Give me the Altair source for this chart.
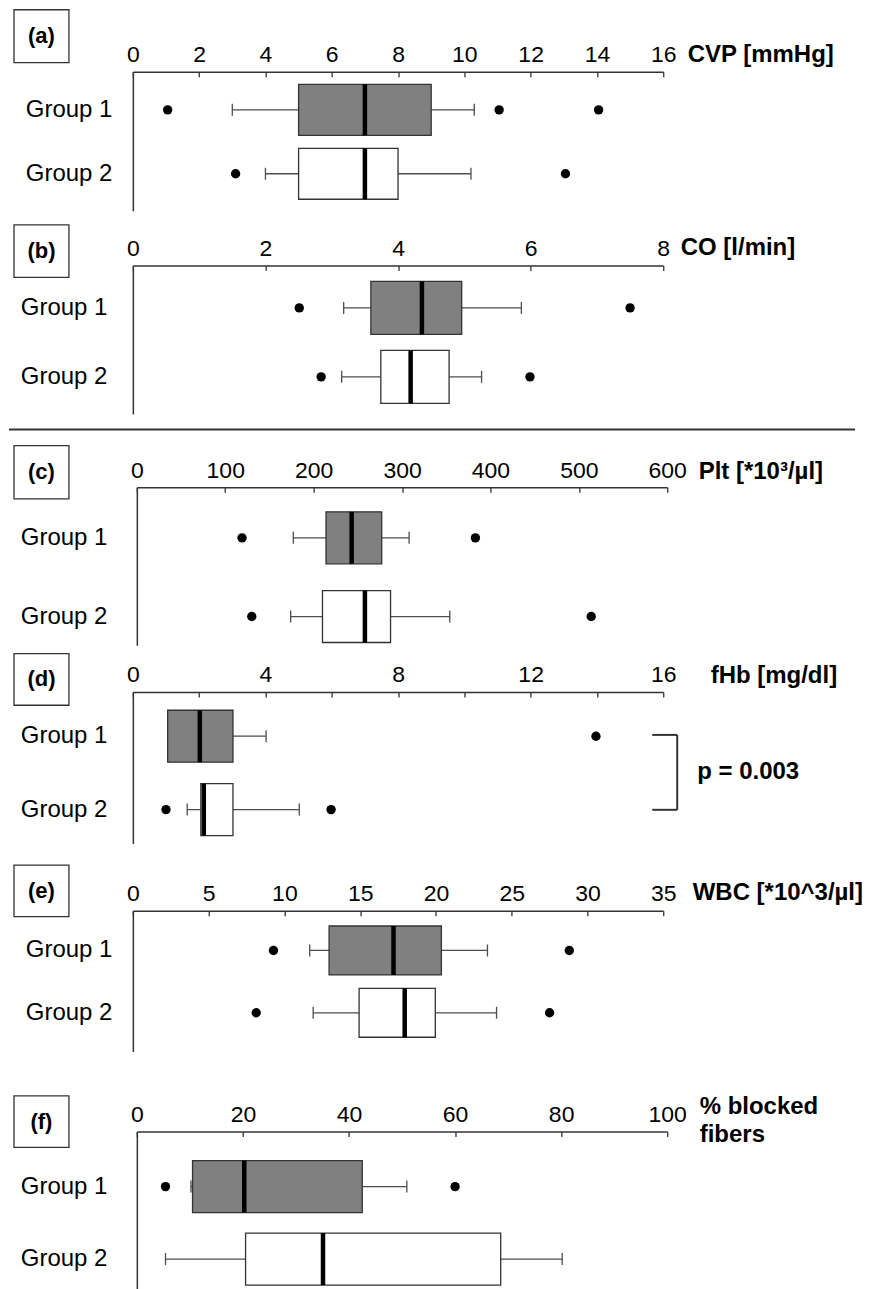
import altair as alt
import pandas as pd

groups = ["Group 1", "Group 2"]

# (a) CVP [mmHg]
cvp_low = [3.0, 4.0]
cvp_q1 = [5.0, 5.0]
cvp_med = [7.0, 7.0]
cvp_q3 = [9.0, 8.0]
cvp_high = [10.3, 10.2]
cvp_out_g1 = [1.05, 11.05, 14.05]
cvp_out_g2 = [3.1, 13.05]

# (b) CO [l/min]
co_low = [3.18, 3.15]
co_q1 = [3.59, 3.74]
co_med = [4.36, 4.19]
co_q3 = [4.96, 4.77]
co_high = [5.86, 5.26]
co_out_g1 = [2.51, 7.5]
co_out_g2 = [2.84, 5.99]

# (c) Plt
plt_low = [177, 174]
plt_q1 = [214, 210]
plt_med = [243, 258]
plt_q3 = [277, 287]
plt_high = [308, 354]
plt_out_g1 = [119, 383]
plt_out_g2 = [130, 514]

# (d) fHb [mg/dl]
fhb_low = [1.05, 1.64]
fhb_q1 = [1.05, 2.05]
fhb_med = [2.02, 2.14]
fhb_q3 = [3.02, 3.02]
fhb_high = [4.02, 5.02]
fhb_out_g1 = [13.97]
fhb_out_g2 = [1.0, 5.98]

# (e) WBC
wbc_low = [11.67, 11.9]
wbc_q1 = [12.95, 14.93]
wbc_med = [17.2, 17.94]
wbc_q3 = [20.36, 19.96]
wbc_high = [23.4, 24.0]
wbc_out_g1 = [9.28, 28.8]
wbc_out_g2 = [8.14, 27.5]

# (f) % blocked fibers
blk_low = [10.2, 5.4]
blk_q1 = [10.5, 20.5]
blk_med = [20.25, 35.1]
blk_q3 = [42.5, 68.6]
blk_high = [50.9, 80.2]
blk_out_g1 = [5.4, 60.0]
blk_out_g2 = []

FONT = "Liberation Sans"
INK = "#333333"
WHISK = "#4d4d4d"
one = pd.DataFrame({"k": [0]})


def band_params(L, c1, c2, bw):
    step = c2 - c1
    pi = 1 - bw / step
    po = (L / step - 2 + pi) / 2
    al = (c1 - bw / 2) / (L - step * (2 - pi))
    return pi, po, al


def panel(letter, title, low, q1, med, q3, high, out1, out2, xmax, label_vals,
          tick_vals, xr0, xr1, height, L, c1, c2, bw, title_x, title_y,
          label_pad, letter_y, extras=(), yoffset=0):
    stats = pd.DataFrame({"group": groups, "low": low, "q1": q1, "med": med,
                          "q3": q3, "high": high})
    caps = pd.DataFrame({"group": groups * 2, "v": list(low) + list(high)})
    outs = pd.DataFrame({"group": ["Group 1"] * len(out1) + ["Group 2"] * len(out2),
                         "v": list(out1) + list(out2)})
    pi, po, al = band_params(L, c1, c2, bw)
    xscale = alt.Scale(domain=[0, xmax], range=[xr0, xr1], nice=False, zero=True)
    yscale = alt.Scale(domain=groups, range=[0, L], paddingInner=pi,
                       paddingOuter=po, align=al, round=False)
    yenc = alt.Y("group:N", scale=yscale, sort=groups,
                 axis=alt.Axis(domain=True, domainColor=INK, domainWidth=1.5,
                               ticks=False, grid=False, labelFont=FONT,
                               labelFontSize=24, labelColor="black",
                               labelPadding=label_pad, title=None, offset=yoffset))
    axisA = alt.Axis(orient="top", values=label_vals, domain=True, domainColor=INK,
                     domainWidth=1.5, ticks=False, grid=False, labelFont=FONT,
                     labelFontSize=23, labelColor="black", labelBaseline="alphabetic",
                     labelPadding=10, labelFlush=False, labelOverlap=False,
                     title=title, titleFont=FONT, titleFontSize=24,
                     titleFontWeight="bold", titleColor="black", titleX=title_x,
                     titleY=title_y, titleAlign="left", titleBaseline="alphabetic",
                     titleAngle=0, titleLineHeight=28)
    axisB = alt.Axis(orient="top", values=tick_vals, offset=-5, domain=False,
                     ticks=True, tickSize=5, tickColor=INK, tickWidth=1.3,
                     labels=False, grid=False, title=None)
    colorenc = alt.Color("group:N", scale=alt.Scale(domain=groups,
                         range=["#808080", "#ffffff"]), legend=None)

    whisk = alt.Chart(stats).mark_rule(color=WHISK, strokeWidth=1.3).encode(
        x=alt.X("low:Q", scale=xscale, axis=axisB), x2="high:Q", y=yenc)
    capl = alt.Chart(caps).mark_tick(color=WHISK, thickness=1.3, size=12, opacity=1).encode(
        x=alt.X("v:Q", scale=xscale, axis=None), y=yenc)
    box = alt.Chart(stats).mark_bar(stroke=INK, strokeWidth=1.3, opacity=1).encode(
        x=alt.X("q1:Q", scale=xscale, axis=axisA), x2="q3:Q", y=yenc, color=colorenc)
    medl = alt.Chart(stats).mark_tick(color="black", thickness=4.5, size=bw, opacity=1).encode(
        x=alt.X("med:Q", scale=xscale, axis=None), y=yenc)
    layers = [whisk, capl, box, medl]
    if len(outs):
        layers.append(alt.Chart(outs).mark_circle(color="black", size=88, opacity=1).encode(
            x=alt.X("v:Q", scale=xscale, axis=None), y=yenc))
    ly0, ly1 = letter_y
    layers.append(alt.Chart(one).mark_rect(fill="white", stroke=INK, strokeWidth=1.3).encode(
        x=alt.value(-119), x2=alt.value(-64), y=alt.value(ly0), y2=alt.value(ly1)))
    layers.append(alt.Chart(one).mark_text(text=f"({letter})", font=FONT, fontSize=22,
                                           fontWeight="bold", align="center",
                                           baseline="middle", color="black").encode(
        x=alt.value(-91.5), y=alt.value((ly0 + ly1) / 2)))
    layers.extend(extras)
    return alt.layer(*layers).resolve_axis(x="independent").properties(
        width=xr1, height=height)


sep = alt.Chart(one).mark_rule(color=INK, strokeWidth=2).encode(
    x=alt.value(-124), x2=alt.value(723), y=alt.value(164.3))

bracket = [
    alt.Chart(one).mark_rule(color=INK, strokeWidth=2).encode(
        x=alt.value(520), x2=alt.value(545), y=alt.value(43)),
    alt.Chart(one).mark_rule(color=INK, strokeWidth=2).encode(
        x=alt.value(545), y=alt.value(43), y2=alt.value(118)),
    alt.Chart(one).mark_rule(color=INK, strokeWidth=2).encode(
        x=alt.value(520), x2=alt.value(545), y=alt.value(118)),
    alt.Chart(one).mark_text(text="p = 0.003", font=FONT, fontSize=24,
                             fontWeight="bold", align="left", baseline="middle",
                             color="black").encode(x=alt.value(565), y=alt.value(80)),
]

pa = panel("a", "CVP [mmHg]", cvp_low, cvp_q1, cvp_med, cvp_q3, cvp_high,
           cvp_out_g1, cvp_out_g2, 16, list(range(0, 17, 2)), list(range(0, 17, 2)),
           0, 531, 194, 139.3, 38.2, 102.2, 51, 555, -10, 21, (-62, -9))
pb = panel("b", "CO [l/min]", co_low, co_q1, co_med, co_q3, co_high,
           co_out_g1, co_out_g2, 8, [0, 2, 4, 6, 8], [0, 2, 4, 6, 8],
           0, 531, 222, 148.7, 42.5, 111.5, 53, 548, -11, 26, (-40.7, 12),
           extras=[sep])
pc = panel("c", "Plt [*10³/µl]", plt_low, plt_q1, plt_med, plt_q3, plt_high,
           plt_out_g1, plt_out_g2, 600, list(range(0, 601, 100)), list(range(0, 601, 100)),
           4, 535, 205, 158.3, 50.7, 129.5, 52, 566, -9, 30, (-41.7, 11.7), yoffset=-4)
pd_ = panel("d", "fHb [mg/dl]", fhb_low, fhb_q1, fhb_med, fhb_q3, fhb_high,
            fhb_out_g1, fhb_out_g2, 16, [0, 4, 8, 12, 16], list(range(0, 17, 2)),
            0, 531, 219, 151.7, 44.3, 117.8, 52, 578, -9, 26, (-38.3, 13.3),
            extras=bracket)
pe = panel("e", "WBC [*10^3/µl]", wbc_low, wbc_q1, wbc_med, wbc_q3, wbc_high,
           wbc_out_g1, wbc_out_g2, 35, list(range(0, 36, 5)), list(range(0, 36, 5)),
           0, 531, 221, 141, 39.8, 102.2, 49, 560, -11, 21, (-45.7, 6))
pf = panel("f", ["% blocked", "fibers"], blk_low, blk_q1, blk_med, blk_q3, blk_high,
           blk_out_g1, blk_out_g2, 100, list(range(0, 101, 20)), list(range(0, 101, 20)),
           4, 535, 158, 158.3, 55.2, 127.8, 52, 567, -17.7, 30, (-35.7, 16), yoffset=-4)

chart = alt.vconcat(pa, pb, pc, pd_, pe, pf, spacing=0, bounds="flush").properties(
    padding={"left": 0, "top": 0, "right": 0, "bottom": 0}
).configure(font=FONT).configure_view(strokeWidth=0)

chart.save("out.html", embed_options={"renderer": "svg", "actions": False})
